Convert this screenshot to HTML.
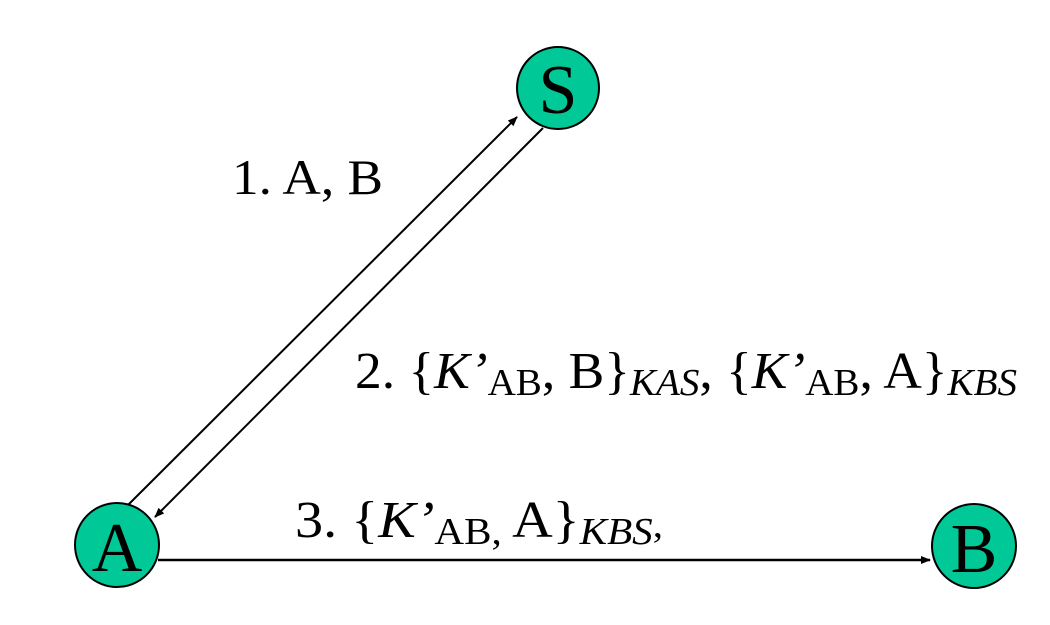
<!DOCTYPE html>
<html><head><meta charset="utf-8"><style>
html,body{margin:0;padding:0;background:#fff;width:1050px;height:625px;overflow:hidden}
svg{display:block}
text{font-family:"Liberation Serif","Times New Roman",Times,serif}
</style></head><body>
<svg width="1050" height="625" viewBox="0 0 1050 625">
<defs>
<marker id="ah" markerWidth="10" markerHeight="8" refX="9" refY="4" orient="auto" markerUnits="userSpaceOnUse">
<path d="M0,0 L10,4 L0,8 Z" fill="#000"/>
</marker>
</defs>
<line x1="128" y1="505" x2="517" y2="117" stroke="#000" stroke-width="2" marker-end="url(#ah)"/>
<line x1="543" y1="128" x2="155" y2="517" stroke="#000" stroke-width="2" marker-end="url(#ah)"/>
<line x1="158" y1="560" x2="930" y2="560" stroke="#000" stroke-width="2.5" marker-end="url(#ah)"/>

<g>
<circle cx="558" cy="88" r="41" fill="#00C896" stroke="#000" stroke-width="2"/>
<text x="558" y="113" font-size="70" text-anchor="middle">S</text></g>
<g>
<circle cx="117" cy="545" r="42" fill="#00C896" stroke="#000" stroke-width="2"/>
<text x="117" y="571" font-size="70" text-anchor="middle">A</text></g>
<g>
<circle cx="974" cy="546" r="42" fill="#00C896" stroke="#000" stroke-width="2"/>
<text x="974" y="572" font-size="70" text-anchor="middle">B</text></g>

<text x="232" y="194" font-size="50" textLength="151" lengthAdjust="spacingAndGlyphs">1. A, B</text>

<text x="355" y="388" font-size="52" textLength="662" lengthAdjust="spacingAndGlyphs">2. {<tspan font-style="italic">K’</tspan><tspan font-size="38" dy="7">AB</tspan><tspan dy="-7">, B}</tspan><tspan font-size="38" font-style="italic" dy="7">KAS</tspan><tspan dy="-7">, {</tspan><tspan font-style="italic">K’</tspan><tspan font-size="38" dy="7">AB</tspan><tspan dy="-7">, A}</tspan><tspan font-size="38" font-style="italic" dy="7">KBS</tspan></text>

<text x="295" y="537" font-size="52" textLength="368" lengthAdjust="spacingAndGlyphs">3. {<tspan font-style="italic">K’</tspan><tspan font-size="38" dy="7">AB, </tspan><tspan dy="-7"> A}</tspan><tspan font-size="38" font-style="italic" dy="7">KBS</tspan><tspan font-size="38" dy="-7">,</tspan></text>
</svg>
</body></html>
